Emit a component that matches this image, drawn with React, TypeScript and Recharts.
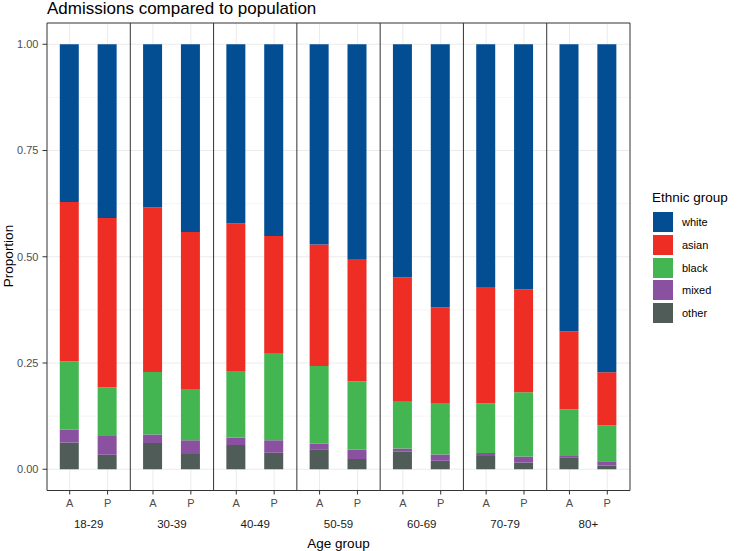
import React from 'react';
import { BarChart, Bar, XAxis, YAxis, CartesianGrid, ReferenceLine } from 'recharts';

const ageGroups = ['18-29', '30-39', '40-49', '50-59', '60-69', '70-79', '80+'];
const sources = ['A', 'P'];
// order: for each age group, A then P
const other = [0.063, 0.034, 0.062, 0.036, 0.057, 0.039, 0.047, 0.024, 0.041, 0.020, 0.031, 0.016, 0.028, 0.009];
const mixed = [0.030, 0.044, 0.020, 0.032, 0.018, 0.029, 0.013, 0.022, 0.008, 0.015, 0.007, 0.014, 0.003, 0.010];
const black = [0.161, 0.115, 0.147, 0.121, 0.156, 0.204, 0.183, 0.161, 0.110, 0.121, 0.117, 0.151, 0.110, 0.084];
const asian = [0.375, 0.398, 0.387, 0.369, 0.348, 0.277, 0.286, 0.286, 0.293, 0.225, 0.274, 0.242, 0.183, 0.125];
const white = [0.371, 0.409, 0.384, 0.442, 0.421, 0.451, 0.471, 0.507, 0.548, 0.619, 0.571, 0.577, 0.676, 0.772];
const yTicks = [0, 0.25, 0.5, 0.75, 1];
const yMinor = [0.125, 0.375, 0.625, 0.875];

const groups = [
  { key: 'white', color: '#034E93' },
  { key: 'asian', color: '#EE2E25' },
  { key: 'black', color: '#44B651' },
  { key: 'mixed', color: '#8A51A0' },
  { key: 'other', color: '#4F5C58' },
];

const PANEL = 2.2; // discrete scale: 2 categories + 0.6 expansion on each side
const srcOffset = [0.6, 1.6];

const data = ageGroups.flatMap((age, g) =>
  sources.map((src, s) => {
    const i = g * 2 + s;
    return {
      x: g * PANEL + srcOffset[s],
      age,
      src,
      other: other[i],
      mixed: mixed[i],
      black: black[i],
      asian: asian[i],
      white: white[i],
    };
  })
);

const xTicks = data.map((d) => d.x);
const panelCenters = ageGroups.map((_, g) => g * PANEL + PANEL / 2);
const panelEdges = ageGroups.map((_, g) => g * PANEL).concat([ageGroups.length * PANEL]);

const labelFor = (v: number) => {
  let best = data[0];
  for (const d of data) if (Math.abs(d.x - v) < Math.abs(best.x - v)) best = d;
  return best.src;
};
const ageFor = (v: number) => {
  const g = Math.round((v - PANEL / 2) / PANEL);
  return ageGroups[g] ?? '';
};

const FONT = '"Liberation Sans", Arial, Helvetica, sans-serif';
const tickStyle = { fontSize: 11, fill: '#4D4D4D', fontFamily: FONT };

export default function App() {
  return (
    <div style={{ position: 'absolute', left: 0, top: 0, width: 740, height: 551, background: '#fff', fontFamily: FONT }}>
      <div style={{ position: 'absolute', left: 47, top: 0, fontSize: 17, lineHeight: '18px', color: '#000', whiteSpace: 'nowrap' }}>
        Admissions compared to population
      </div>
      <div
        style={{
          position: 'absolute',
          left: 8,
          top: 256,
          fontSize: 13.5,
          color: '#000',
          transform: 'translate(-50%, -50%) rotate(-90deg)',
          whiteSpace: 'nowrap',
        }}
      >
        Proportion
      </div>
      <div
        style={{
          position: 'absolute',
          left: 338.5,
          top: 543,
          fontSize: 13.5,
          color: '#000',
          transform: 'translate(-50%, -50%)',
          whiteSpace: 'nowrap',
        }}
      >
        Age group
      </div>
      <div style={{ position: 'absolute', left: 652, top: 190 }}>
        <div style={{ fontSize: 13.5, color: '#000', marginBottom: 6, whiteSpace: 'nowrap' }}>Ethnic group</div>
        {groups.map((g) => (
          <div key={g.key} style={{ display: 'flex', alignItems: 'center', height: 22.7 }}>
            <div style={{ width: 20, height: 20, background: g.color, marginLeft: 1 }} />
            <span style={{ fontSize: 11, color: '#000', marginLeft: 9 }}>{g.key}</span>
          </div>
        ))}
      </div>
      <div style={{ position: 'absolute', left: 0, top: 0 }}>
        <BarChart
          width={740}
          height={551}
          data={data}
          margin={{ top: 23, right: 110, left: 0, bottom: 20.5 }}
        >
          <CartesianGrid
            stroke="#EBEBEB"
            strokeWidth={0.5}
            horizontalValues={yMinor}
            vertical={false}
          />
          <CartesianGrid
            stroke="#EBEBEB"
            strokeWidth={1}
            horizontalValues={yTicks}
            verticalValues={xTicks}
          />
          <XAxis
            dataKey="x"
            type="number"
            domain={[0, PANEL * ageGroups.length]}
            ticks={xTicks}
            interval={0}
            tickFormatter={labelFor}
            tick={tickStyle}
            tickSize={4}
            tickMargin={5}
            tickLine={{ stroke: '#333333' }}
            axisLine={false}
            height={20}
            allowDataOverflow
          />
          <XAxis
            xAxisId="age"
            dataKey="x"
            type="number"
            domain={[0, PANEL * ageGroups.length]}
            ticks={panelCenters}
            interval={0}
            tickFormatter={ageFor}
            tick={{ ...tickStyle, fontSize: 11.5, fill: '#1A1A1A' }}
            tickSize={0}
            tickMargin={9}
            tickLine={false}
            axisLine={false}
            height={20}
            allowDataOverflow
          />
          <YAxis
            type="number"
            domain={[-0.05, 1.05]}
            ticks={yTicks}
            interval={0}
            tickFormatter={(v: number) => v.toFixed(2)}
            tick={tickStyle}
            tickSize={4.5}
            tickMargin={4}
            tickLine={{ stroke: '#333333' }}
            axisLine={false}
            width={47}
            allowDataOverflow
          />
          {[...groups].reverse().map((g) => (
            <Bar key={g.key} dataKey={g.key} stackId="s" fill={g.color} barSize={19} isAnimationActive={false} />
          ))}
          {panelEdges.map((e, i) => (
            <ReferenceLine key={'v' + i} x={e} stroke="#333333" strokeWidth={1} ifOverflow="extendDomain" />
          ))}
          <ReferenceLine y={1.05} stroke="#333333" strokeWidth={1} />
          <ReferenceLine y={-0.05} stroke="#333333" strokeWidth={1} />
        </BarChart>
      </div>
    </div>
  );
}
